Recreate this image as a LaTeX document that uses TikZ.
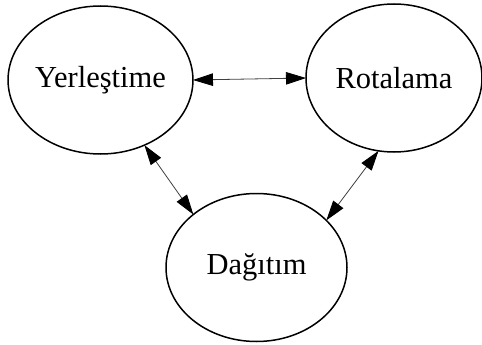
\documentclass[tikz,border=0pt]{standalone}
\usepackage{fontspec}
\setmainfont{Liberation Serif}
\usetikzlibrary{shapes.geometric,arrows.meta}
\begin{document}
\begin{tikzpicture}[x=1pt,y=-1pt,
  blob/.style={ellipse,draw,line width=1.5pt,inner sep=0pt,outer sep=0pt,font=\fontsize{30.5}{33}\selectfont},
  link/.style={line width=0.8pt,draw=black!75,{Triangle[length=20pt,width=12.5pt,fill=black,color=black]}-{Triangle[length=20pt,width=12.5pt,fill=black,color=black]}}]
\useasboundingbox (0,0) rectangle (482,345);
\node[blob,minimum width=183pt,minimum height=148pt] (Y) at (100.5,80) {Yerleştime};
\node[blob,minimum width=176pt,minimum height=148pt] (R) at (394,78) {Rotalama};
\node[blob,minimum width=181pt,minimum height=148pt] (D) at (256.5,267.5) {Dağıtım};
\draw[link] (Y.0) -- (R.180);
\draw[link] (Y.-56) -- (D.140);
\draw[link] (R.-102) -- (D.34);
\end{tikzpicture}
\end{document}
